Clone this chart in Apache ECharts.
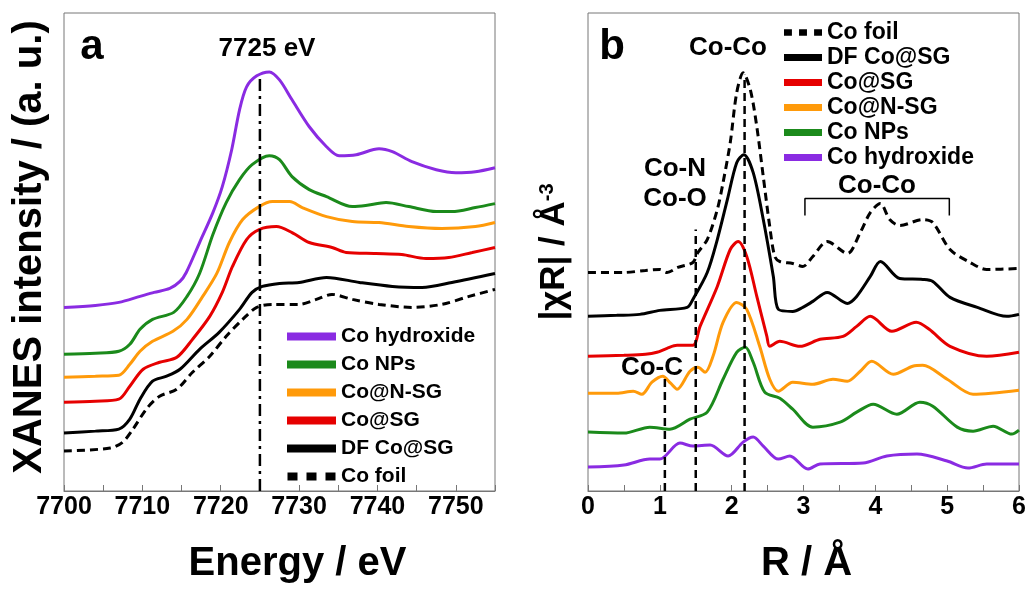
<!DOCTYPE html>
<html>
<head>
<meta charset="utf-8">
<script src="https://cdn.jsdelivr.net/npm/echarts@6/dist/echarts.min.js"></script>
<style>
* {
  margin: 0;
  padding: 0;
}
#chart-container {
  width: 1029px;
  height: 589px;
  background: #fff;
}
</style>
</head>
<body>
<div id="chart-container"></div>
<script>
// names shown in the two legends
const namesA = ['Co hydroxide', 'Co NPs', 'Co@N-SG', 'Co@SG', 'DF Co@SG', 'Co foil']
const namesB = ['Co foil', 'DF Co@SG', 'Co@SG', 'Co@N-SG', 'Co NPs', 'Co hydroxide']
const colors = {
  'Co hydroxide': '#8a2be2',
  'Co NPs': '#1b8a1b',
  'Co@N-SG': '#ff9a0a',
  'Co@SG': '#e60000',
  'DF Co@SG': '#000000',
  'Co foil': '#000000'
}

// panel a: XANES, [energy eV, stacked intensity a.u.]
const xanesHydroxide = [[7700, 184], [7704, 186], [7707, 189], [7709.7, 195], [7711.5, 199], [7713.5, 203], [7714.8, 210], [7715.6, 219], [7717.3, 249], [7719, 279], [7720.2, 305], [7721.4, 342], [7722.4, 382], [7723.3, 405], [7724.6, 416], [7726.2, 420], [7727.5, 412], [7729.1, 392], [7731.3, 365], [7733.5, 345], [7735.1, 336], [7737.3, 337], [7740.2, 343], [7741.9, 340], [7744.4, 330], [7747.5, 322], [7750, 319], [7752.5, 320], [7755, 324]]
const xanesNPs = [[7700, 137], [7704, 138], [7707, 140], [7708.4, 147], [7709.7, 162], [7711.3, 172], [7714, 179], [7715.7, 195], [7717.3, 218], [7719, 257], [7720.7, 289], [7722.4, 312], [7724, 327], [7726.2, 336], [7727.5, 332], [7729.1, 315], [7731.3, 302], [7733.5, 295], [7736.8, 285], [7738.5, 286], [7741.1, 289], [7744, 285], [7747.5, 280], [7749.5, 280], [7752.5, 284], [7755, 288]]
const xanesNSG = [[7700, 114], [7704, 115], [7707, 116], [7708.4, 127], [7709.7, 140], [7711.3, 150], [7713.9, 160], [7715.7, 172], [7717.7, 195], [7719.5, 218], [7721.1, 249], [7722.8, 272], [7724.9, 285], [7726.6, 290], [7728.8, 290], [7730.4, 284], [7733.5, 275], [7736.8, 270], [7740.2, 269], [7744, 265], [7748.2, 263], [7752.5, 265], [7755, 269]]
const xanesSG = [[7700, 89], [7704, 90], [7707, 92], [7708.4, 105], [7710.1, 122], [7712.2, 129], [7714.4, 134], [7716.4, 152], [7718.6, 175], [7720.2, 199], [7721.5, 225], [7723.3, 252], [7724.9, 262], [7727.1, 265], [7729.1, 259], [7731.3, 249], [7734.2, 244], [7736, 239], [7739.8, 238], [7743.1, 237], [7746.2, 233], [7749.1, 234], [7752.1, 239], [7755, 244]]
const xanesDF = [[7700, 58], [7704, 60], [7707, 62], [7708.4, 72], [7709.7, 92], [7711.3, 110], [7713.1, 115], [7714.8, 122], [7717.3, 142], [7719.8, 159], [7722.4, 182], [7724, 199], [7725.3, 205], [7727.5, 208], [7730, 209], [7733.5, 214], [7737.7, 209], [7741.9, 205], [7745.7, 204], [7749.5, 209], [7755, 218]]
const xanesFoil = [[7700, 40], [7705.9, 43], [7707.5, 49], [7708.8, 62], [7710.6, 83], [7712.2, 95], [7714.4, 102], [7716.4, 119], [7718.6, 135], [7720.7, 155], [7722.8, 172], [7724.6, 184], [7726.6, 187], [7730, 187], [7732.2, 192], [7734.2, 197], [7736.8, 192], [7740.2, 187], [7744.4, 184], [7748.2, 187], [7751.7, 195], [7755, 202]]
const edgeLine = [[7725, 0], [7725, 417]]

// panel b: FT-EXAFS, [R in Å, stacked |χR|]
const exafsFoil = [[0, 219], [0.5, 219], [0.8, 221], [1.0, 222], [1.1, 219], [1.25, 224], [1.46, 229], [1.53, 239], [1.66, 252], [1.8, 282], [1.88, 309], [1.98, 349], [2.07, 399], [2.16, 419], [2.26, 402], [2.35, 365], [2.44, 315], [2.53, 265], [2.6, 235], [2.67, 230], [2.85, 228], [2.99, 225], [3.13, 235], [3.33, 250], [3.61, 238], [3.79, 259], [3.93, 279], [4.07, 288], [4.2, 272], [4.34, 266], [4.66, 272], [4.8, 269], [5.04, 242], [5.32, 229], [5.55, 222], [6, 223]]
const exafsDF = [[0, 175], [0.4, 176], [0.72, 177], [1.0, 181], [1.38, 184], [1.46, 192], [1.66, 219], [1.8, 252], [1.94, 292], [2.07, 329], [2.17, 337], [2.3, 319], [2.44, 272], [2.58, 215], [2.65, 182], [2.85, 180], [2.99, 184], [3.13, 190], [3.33, 199], [3.61, 188], [3.74, 195], [3.93, 215], [4.07, 230], [4.34, 213], [4.66, 212], [4.8, 210], [5.04, 194], [5.42, 184], [5.83, 175], [6, 177]]
const exafsSG = [[0, 135], [0.5, 136], [0.8, 137], [0.96, 139], [1.1, 143], [1.24, 146], [1.46, 146], [1.56, 165], [1.8, 205], [1.98, 242], [2.09, 250], [2.21, 235], [2.35, 195], [2.49, 155], [2.53, 145], [2.67, 150], [2.95, 145], [3.23, 152], [3.55, 155], [3.74, 165], [3.93, 175], [4.23, 160], [4.57, 169], [4.75, 162], [5.04, 145], [5.55, 135], [6, 139]]
const exafsNSG = [[0, 98], [0.4, 98], [0.63, 100], [0.75, 97], [0.89, 109], [1.04, 115], [1.15, 108], [1.24, 102], [1.42, 120], [1.53, 124], [1.63, 119], [1.74, 135], [1.88, 169], [2.07, 189], [2.21, 182], [2.39, 145], [2.53, 112], [2.65, 100], [2.85, 109], [3.13, 107], [3.41, 112], [3.61, 110], [3.79, 120], [3.95, 130], [4.25, 117], [4.52, 125], [4.66, 126], [5, 112], [5.36, 97], [6, 101]]
const exafsNPs = [[0, 59], [0.5, 58], [0.86, 64], [1.14, 62], [1.42, 72], [1.66, 79], [1.88, 112], [2.07, 139], [2.19, 144], [2.3, 129], [2.46, 99], [2.67, 93], [2.85, 82], [3.13, 64], [3.51, 69], [3.74, 79], [3.97, 87], [4.3, 77], [4.62, 89], [4.8, 85], [5.14, 64], [5.36, 60], [5.64, 65], [5.9, 57], [6, 61]]
const exafsHydroxide = [[0, 24], [0.5, 26], [0.86, 32], [1.0, 32], [1.28, 48], [1.46, 45], [1.7, 46], [1.95, 35], [2.16, 49], [2.3, 54], [2.44, 45], [2.65, 32], [2.81, 35], [3.06, 22], [3.23, 27], [3.83, 28], [4.16, 35], [4.58, 37], [5, 30], [5.29, 23], [5.55, 27], [6, 27]]
const markCoC = [[1.07, 0], [1.07, 115]]
const markCoN = [[1.5, 0], [1.5, 262]]
const markCoCo = [[2.18, 0], [2.18, 417]]
const shellBracket = [[3.02, 276], [3.02, 293], [5.03, 293], [5.03, 276]]

const chartDom = document.getElementById('chart-container')
const myChart = echarts.init(chartDom)

const sans = "'Liberation Sans', Arial, sans-serif"
const dashIcon = 'path://M0,0h10v8h-10zM19,0h10v8h-10zM38,0h10v8h-10z'
const frameColor = '#777'

const curve = (name, data, axis) => ({
  name: name,
  type: 'line',
  xAxisIndex: axis,
  yAxisIndex: axis,
  data: data,
  showSymbol: false,
  smooth: 0.3,
  color: colors[name],
  lineStyle: {
    width: 3,
    color: colors[name],
    type: name === 'Co foil' ? [8, 5] : 'solid'
  },
  z: 2
})

const guide = (data, axis, type, width) => ({
  type: 'line',
  xAxisIndex: axis,
  yAxisIndex: axis,
  data: data,
  showSymbol: false,
  silent: true,
  lineStyle: { width: width, color: '#000', type: type },
  z: 3
})

const xAxisBase = {
  type: 'value',
  nameLocation: 'middle',
  nameGap: 53,
  nameTextStyle: { fontSize: 40, fontWeight: 'bold', fontFamily: sans, color: '#000' },
  axisLine: { onZero: false, lineStyle: { color: frameColor, width: 1 } },
  axisTick: { inside: true, length: 6, lineStyle: { color: frameColor } },
  axisLabel: { fontSize: 25, fontWeight: 'bold', fontFamily: sans, color: '#000', margin: 4 },
  splitLine: { show: false }
}

const yAxisBase = {
  type: 'value',
  min: 0,
  max: 479,
  nameLocation: 'middle',
  nameRotate: 90,
  axisLine: { show: false },
  axisTick: { show: false },
  axisLabel: { show: false },
  splitLine: { show: false }
}

const legendBase = {
  orient: 'vertical',
  itemGap: 0,
  selectedMode: false,
  textStyle: { fontWeight: 'bold', fontFamily: sans, color: '#000' }
}

const label = (text, x, y, size) => ({
  type: 'text',
  x: x,
  y: y,
  style: {
    text: text,
    fontSize: size,
    fontWeight: 'bold',
    fontFamily: sans,
    fill: '#000',
    align: 'center',
    verticalAlign: 'middle'
  }
})

const option = {
  animation: false,
  backgroundColor: '#fff',
  grid: [
    { left: 64, top: 13, width: 431, height: 479, show: true, borderColor: frameColor, borderWidth: 1, backgroundColor: 'transparent' },
    { left: 588, top: 13, width: 431, height: 479, show: true, borderColor: frameColor, borderWidth: 1, backgroundColor: 'transparent' }
  ],
  xAxis: [
    Object.assign({}, xAxisBase, {
      gridIndex: 0,
      min: 7700,
      max: 7755,
      interval: 5,
      name: 'Energy / eV',
      nameTextStyle: Object.assign({}, xAxisBase.nameTextStyle, { padding: [0, 0, 0, 36] }),
      axisLabel: Object.assign({}, xAxisBase.axisLabel, {
        formatter: (v) => (v % 10 === 0 ? String(v) : '')
      })
    }),
    Object.assign({}, xAxisBase, {
      gridIndex: 1,
      min: 0,
      max: 6,
      interval: 0.5,
      name: 'R / Å',
      nameTextStyle: Object.assign({}, xAxisBase.nameTextStyle, { padding: [0, 0, 0, 6] }),
      axisLabel: Object.assign({}, xAxisBase.axisLabel, {
        formatter: (v) => (Number.isInteger(v) ? String(v) : '')
      })
    })
  ],
  yAxis: [
    Object.assign({}, yAxisBase, {
      gridIndex: 0,
      name: 'XANES intensity / (a. u.)',
      nameGap: 14,
      nameTextStyle: { fontSize: 40, fontWeight: 'bold', fontFamily: sans, color: '#000', padding: [0, 0, 0, 10] }
    }),
    Object.assign({}, yAxisBase, {
      gridIndex: 1,
      name: '|χR| / Å{sup|-3}',
      nameGap: 16,
      nameTextStyle: {
        fontSize: 35,
        fontWeight: 'bold',
        fontFamily: sans,
        color: '#000',
        rich: {
          sup: { fontSize: 20, fontWeight: 'bold', fontFamily: sans, color: '#000', verticalAlign: 'top' }
        }
      }
    })
  ],
  legend: [
    Object.assign({}, legendBase, {
      left: 282,
      top: 321,
      itemWidth: 49,
      itemHeight: 8,
      itemGap: 7,
      textStyle: Object.assign({}, legendBase.textStyle, { fontSize: 21, lineHeight: 21 }),
      data: namesA.map((n) => ({ name: n, icon: n === 'Co foil' ? dashIcon : 'rect' }))
    }),
    Object.assign({}, legendBase, {
      left: 779,
      top: 16,
      itemWidth: 38,
      itemHeight: 7,
      itemGap: 2,
      textStyle: Object.assign({}, legendBase.textStyle, { fontSize: 23, lineHeight: 23 }),
      data: namesB.map((n) => ({ name: n, icon: n === 'Co foil' ? dashIcon : 'rect' }))
    })
  ],
  graphic: [
    label('a', 92, 47, 42),
    label('7725 eV', 267, 49, 26),
    label('b', 612, 47, 42),
    label('Co-Co', 728, 48, 26),
    label('Co-N', 675, 169, 26),
    label('Co-O', 675, 199, 26),
    label('Co-C', 652, 368, 26),
    label('Co-Co', 877, 186, 26)
  ],
  series: [
    curve('Co hydroxide', xanesHydroxide, 0),
    curve('Co NPs', xanesNPs, 0),
    curve('Co@N-SG', xanesNSG, 0),
    curve('Co@SG', xanesSG, 0),
    curve('DF Co@SG', xanesDF, 0),
    curve('Co foil', xanesFoil, 0),
    guide(edgeLine, 0, [12, 5, 3, 5], 2.5),
    curve('Co foil', exafsFoil, 1),
    curve('DF Co@SG', exafsDF, 1),
    curve('Co@SG', exafsSG, 1),
    curve('Co@N-SG', exafsNSG, 1),
    curve('Co NPs', exafsNPs, 1),
    curve('Co hydroxide', exafsHydroxide, 1),
    guide(markCoC, 1, [8, 5], 2.5),
    guide(markCoN, 1, [8, 5], 2.5),
    guide(markCoCo, 1, [8, 5], 2.5),
    guide(shellBracket, 1, 'solid', 1.5)
  ]
}

myChart.setOption(option)
</script>
</body>
</html>
